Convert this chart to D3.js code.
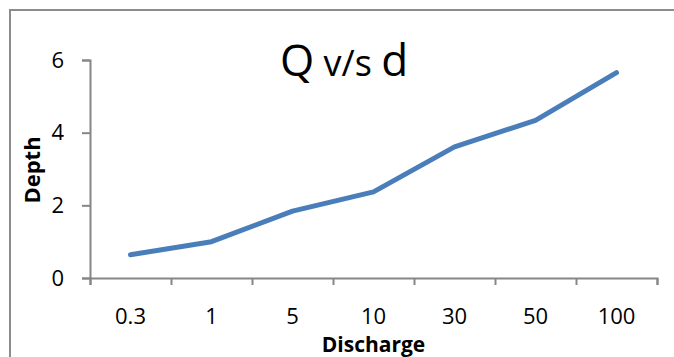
<!DOCTYPE html>
<html>
<head>
<meta charset="utf-8">
<script src="https://cdn.jsdelivr.net/npm/d3@7"></script>
<style>
  body { margin: 0; background: #fff; }
  text { font-family: "Open Sans", "Noto Sans", sans-serif; }
</style>
</head>
<body>
<div id="chart"></div>
<script>
// 資料
const discharge = ["0.3", "1", "5", "10", "30", "50", "100"];
const depth = [0.64, 1.0, 1.84, 2.37, 3.61, 4.34, 5.65];
const yTicks = [0, 2, 4, 6];

const width = 674;
const height = 357;
const plotLeft = 90, plotRight = 657, plotTop = 60, plotBottom = 278;
const axisColor = "#868686";

const svg = d3
  .select("#chart")
  .append("svg")
  .attr("width", width)
  .attr("height", height);

// 外框
svg
  .append("rect")
  .attr("x", 10)
  .attr("y", 10)
  .attr("width", 720)
  .attr("height", 400)
  .attr("fill", "none")
  .attr("stroke", "#8c8c8c")
  .attr("stroke-width", 2);

const x = d3
  .scaleBand()
  .domain(discharge)
  .range([plotLeft, plotRight])
  .padding(0);

const y = d3.scaleLinear().domain([0, 6]).range([plotBottom, plotTop]);

// Y 軸
const yAxis = svg
  .append("g")
  .attr("transform", `translate(${plotLeft}, 0)`)
  .call(
    d3
      .axisLeft(y)
      .tickValues(yTicks)
      .tickFormat(d3.format("d"))
      .tickSize(8)
      .tickPadding(18)
  );

// X 軸 (刻度在類別邊界)
const xEdges = d3
  .scaleLinear()
  .domain([0, discharge.length])
  .range([plotLeft, plotRight]);

const xAxis = svg
  .append("g")
  .attr("transform", `translate(0, ${plotBottom})`)
  .call(
    d3
      .axisBottom(xEdges)
      .tickValues(d3.range(discharge.length + 1))
      .tickSize(7)
      .tickFormat("")
  );

const xLabels = svg
  .append("g")
  .attr("transform", `translate(0, ${plotBottom})`)
  .call(d3.axisBottom(x).tickSize(0).tickPadding(30));
xLabels.select(".domain").remove();

[yAxis, xAxis].forEach((g) => {
  g.select(".domain").attr("stroke", axisColor).attr("stroke-width", 2);
  g.selectAll(".tick line").attr("stroke", axisColor).attr("stroke-width", 2);
});
[yAxis, xLabels].forEach((g) => {
  g.attr("font-size", null).attr("font-family", null);
  g.selectAll("text").attr("fill", "#000").style("font-size", "22px");
});

// 折線
const line = d3
  .line()
  .x((d, i) => x(discharge[i]) + x.bandwidth() / 2)
  .y((d) => y(d));

svg
  .append("path")
  .datum(depth)
  .attr("fill", "none")
  .attr("stroke", "#4a7ebb")
  .attr("stroke-width", 5)
  .attr("stroke-linecap", "round")
  .attr("stroke-linejoin", "round")
  .attr("d", line);

// 標題
const title = svg
  .append("text")
  .attr("x", 344)
  .attr("y", 76)
  .attr("text-anchor", "middle")
  .attr("fill", "#000");
title.append("tspan").style("font-size", "44px").text("Q");
title.append("tspan").style("font-size", "36px").text(" v/s ");
title.append("tspan").style("font-size", "44px").text("d");

// 軸標題
svg
  .append("text")
  .attr("x", (plotLeft + plotRight) / 2)
  .attr("y", 352)
  .attr("text-anchor", "middle")
  .style("font-size", "21px")
  .style("font-weight", "bold")
  .text("Discharge");

svg
  .append("text")
  .attr("transform", `translate(40, 170) rotate(-90)`)
  .attr("text-anchor", "middle")
  .style("font-size", "22px")
  .style("font-weight", "bold")
  .text("Depth");
</script>
</body>
</html>
